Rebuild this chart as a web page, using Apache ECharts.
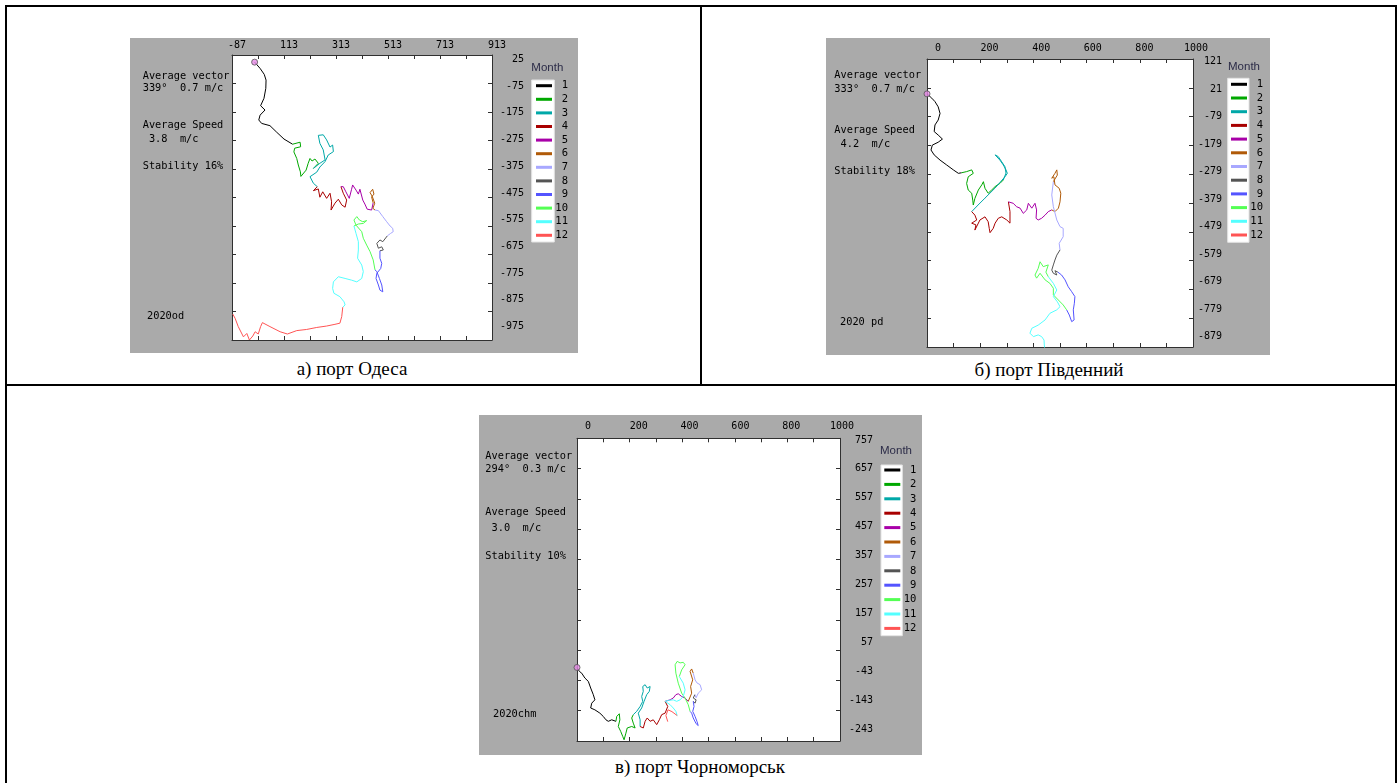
<!DOCTYPE html>
<html><head><meta charset="utf-8">
<script src="https://cdn.jsdelivr.net/npm/echarts@6/dist/echarts.min.js"></script>
<style>
html,body{margin:0;padding:0;background:#fff;}
body{width:1400px;height:783px;position:relative;overflow:hidden;}
.ln{position:absolute;background:#000;}
.cap{position:absolute;font-family:'Liberation Serif','Times New Roman',serif;font-size:19px;line-height:20px;color:#000;text-align:center;white-space:nowrap;}
.ch{position:absolute;background:#aaaaaa;}
</style></head><body>
<div class="ln" style="left:5px;top:5px;width:1392px;height:2px"></div>
<div class="ln" style="left:5px;top:5px;width:2px;height:790px"></div>
<div class="ln" style="left:1395px;top:5px;width:2px;height:790px"></div>
<div class="ln" style="left:700px;top:5px;width:2px;height:380px"></div>
<div class="ln" style="left:5px;top:384px;width:1392px;height:2px"></div>
<div id="chA" class="ch" style="left:130px;top:38px;width:448px;height:315px"></div>
<div id="chB" class="ch" style="left:826px;top:38px;width:444px;height:317px"></div>
<div id="chC" class="ch" style="left:479px;top:415px;width:443px;height:340px"></div>
<div class="cap" style="left:202px;width:300px;top:359px">а) порт Одеса</div>
<div class="cap" style="left:899px;width:300px;top:360px">б) порт Південний</div>
<div class="cap" style="left:550px;width:300px;top:757px">в) порт Чорноморськ</div>
<script>
// ---------------- data ----------------
const months = ['1','2','3','4','5','6','7','8','9','10','11','12'];
const monthColors = ['#000000','#00a800','#00a8a8','#a80000','#a800a8','#b05a08','#a8a8ff','#545454','#5454ff','#54ff54','#54ffff','#ff5454'];

// Odesa
const odesaXLabels = [-87,113,313,513,713,913];
const odesaYLabels = [25,-75,-175,-275,-375,-475,-575,-675,-775,-875,-975];
const odesaInfo = ['Average vector','339°  0.7 m/c','Average Speed',' 3.8  m/c','Stability 16%'];
const odesaTag = '2020od';
const odesa01 = [[0,0],[21,-22],[37,-43],[44,-63],[43,-92],[36,-127],[23,-153],[40,-168],[21,-186],[16,-203],[27,-215],[59,-223],[85,-246],[113,-270],[146,-288]];
const odesa02 = [[146,-288],[175,-281],[177,-297],[154,-302],[151,-315],[162,-338],[168,-361],[176,-385],[178,-401],[198,-379],[206,-355],[213,-338],[221,-347],[232,-340],[245,-355],[226,-373]];
const odesa03 = [[226,-373],[251,-355],[271,-343],[264,-308],[251,-285],[245,-257],[264,-255],[277,-273],[290,-298],[300,-291],[303,-314],[283,-326],[271,-349],[251,-368],[239,-386],[213,-402],[226,-425],[241,-437]];
const odesa04 = [[241,-437],[226,-451],[245,-445],[251,-474],[262,-455],[277,-478],[290,-460],[296,-490],[294,-519],[309,-495],[322,-481],[335,-501],[348,-509],[354,-484],[341,-460],[332,-437]];
const odesa05 = [[332,-437],[341,-437],[351,-455],[364,-478],[373,-446],[377,-431],[390,-449],[399,-463],[405,-446],[416,-484],[424,-498],[433,-516],[450,-519],[456,-494]];
const odesa06 = [[456,-494],[450,-473],[459,-463],[454,-446],[444,-458],[452,-470],[462,-495],[455,-513],[463,-519]];
const odesa07 = [[463,-519],[476,-521],[493,-542],[508,-560],[521,-575],[531,-583],[533,-595],[523,-601],[510,-610]];
const odesa08 = [[510,-610],[508,-607],[493,-630],[482,-624],[470,-636],[476,-653],[489,-648],[495,-659],[482,-662]];
const odesa09 = [[482,-662],[476,-665],[482,-688],[489,-706],[485,-724],[470,-741],[467,-759],[476,-782],[482,-800],[493,-806],[489,-782],[480,-759],[470,-735],[463,-729]];
const odesa10 = [[463,-729],[456,-694],[444,-665],[431,-642],[418,-618],[412,-595],[390,-572],[382,-554],[393,-542],[403,-554],[416,-560],[431,-556],[418,-566],[399,-568],[382,-575]];
const odesa11 = [[382,-575],[390,-601],[399,-630],[399,-659],[396,-688],[412,-712],[418,-735],[412,-759],[393,-771],[373,-765],[348,-759],[322,-753],[303,-771],[300,-794],[305,-811],[328,-823],[344,-841],[348,-852],[339,-860]];
const odesa12 = [[339,-860],[335,-893],[328,-916],[309,-920],[277,-926],[239,-931],[200,-938],[162,-942],[126,-954],[98,-946],[59,-928],[30,-914],[23,-928],[14,-954],[2,-946],[-7,-961],[-20,-975],[-30,-952],[-43,-964],[-63,-928],[-75,-899],[-84,-884]];

// Pivdennyi
const pivdXLabels = [0,200,400,600,800,1000];
const pivdYLabels = [121,21,-79,-179,-279,-379,-479,-579,-679,-779,-879];
const pivdInfo = ['Average vector','333°  0.7 m/c','Average Speed',' 4.2  m/c','Stability 18%'];
const pivdTag = '2020 pd';
const pivd01 = [[0,0],[18,-15],[30,-27],[42,-45],[49,-68],[42,-91],[30,-108],[27,-131],[42,-143],[58,-157],[42,-168],[20,-178],[15,-195],[27,-212],[49,-230],[74,-247],[99,-264],[118,-276],[130,-274]];
const pivd02 = [[130,-274],[149,-270],[168,-264],[174,-276],[155,-288],[149,-311],[155,-334],[168,-345],[172,-369],[174,-386],[180,-363],[193,-334],[206,-316],[212,-305],[218,-328],[230,-345],[243,-334],[256,-322],[274,-311],[287,-299]];
const pivd03 = [[287,-299],[297,-275],[293,-253],[281,-236],[268,-218],[256,-212],[274,-230],[287,-247],[297,-264],[302,-276],[293,-288],[256,-327],[218,-362],[192,-386],[168,-409]];
const pivd04 = [[168,-409],[180,-421],[187,-438],[168,-449],[184,-455],[180,-473],[199,-438],[218,-427],[230,-444],[234,-467],[237,-482],[249,-467],[256,-449],[268,-432],[281,-427],[300,-438],[312,-449],[318,-444],[312,-409],[306,-375]];
const pivd05 = [[306,-375],[324,-380],[337,-392],[350,-397],[362,-415],[375,-403],[381,-380],[387,-375],[394,-397],[406,-380],[412,-403],[410,-432],[418,-438],[431,-432],[444,-421],[456,-409],[469,-403]];
const pivd06 = [[469,-403],[481,-409],[494,-397],[500,-375],[503,-345],[497,-328],[481,-316],[475,-311],[477,-288],[469,-293],[481,-276],[488,-264],[494,-270],[490,-282],[475,-305]];
const pivd07 = [[475,-305],[469,-351],[475,-392],[488,-438],[500,-461],[512,-467],[512,-496],[497,-519],[500,-542]];
const pivd08 = [[500,-542],[488,-560],[481,-577],[475,-594],[469,-612],[475,-623],[488,-629],[481,-614],[492,-619]];
const pivd09 = [[492,-619],[506,-629],[519,-646],[531,-670],[544,-687],[556,-704],[554,-727],[550,-750],[553,-785],[544,-791],[535,-768],[525,-750]];
const pivd10 = [[525,-750],[512,-733],[494,-716],[475,-698],[475,-675],[462,-658],[444,-646],[425,-623],[412,-640],[406,-629],[418,-606],[425,-583],[437,-600],[456,-594],[447,-619],[456,-635]];
const pivd11 = [[456,-635],[475,-658],[488,-681],[475,-704],[490,-722],[500,-739],[488,-750],[462,-762],[444,-785],[418,-803],[394,-814],[387,-831],[400,-843],[418,-837],[431,-843],[440,-855],[441,-872],[444,-896]];
const pivd12 = [];

// Chornomorsk
const chornXLabels = [0,200,400,600,800,1000];
const chornYLabels = [757,657,557,457,357,257,157,57,-43,-143,-243];
const chornInfo = ['Average vector','294°  0.3 m/c','Average Speed',' 3.0  m/c','Stability 10%'];
const chornTag = '2020chm';
const chorn01 = [[0,0],[9,-13],[18,-19],[30,-35],[43,-46],[52,-68],[62,-90],[68,-107],[56,-118],[52,-134],[68,-140],[87,-151],[100,-162],[110,-173],[119,-178],[132,-173],[148,-178]];
const chorn02 = [[148,-178],[151,-162],[161,-153],[163,-173],[157,-195],[166,-211],[174,-228],[179,-239],[186,-217],[191,-200],[208,-195],[221,-200],[214,-184],[208,-167],[214,-156]];
const chorn03 = [[214,-156],[227,-145],[240,-129],[250,-112],[246,-96],[252,-79],[250,-63],[259,-57],[267,-68],[278,-63],[275,-79],[265,-90],[255,-112],[246,-134],[233,-151],[240,-173],[240,-195]];
const chorn04 = [[240,-195],[252,-200],[259,-178],[267,-167],[278,-178],[290,-173],[303,-189],[313,-173],[322,-156],[335,-151],[345,-129],[335,-112]];
const chorn05 = [[335,-112],[354,-107],[366,-101],[376,-90],[385,-87],[398,-96],[411,-101],[423,-112]];
const chorn06 = [[423,-112],[427,-107],[436,-85],[432,-63],[440,-41],[430,-13],[423,-8],[436,-5],[442,-19]];
const chorn07 = [[442,-19],[449,-41],[456,-51],[468,-57],[474,-74],[461,-85],[453,-100],[448,-90]];
const chorn08 = [[448,-90],[442,-101],[453,-107],[449,-118],[442,-112]];
const chorn09 = [[442,-112],[445,-129],[440,-145],[449,-162],[456,-178],[461,-192],[453,-186],[442,-167],[436,-151],[430,-145]];
const chorn10 = [[430,-145],[423,-123],[411,-101],[398,-85],[385,-52],[376,-19],[373,9],[381,20],[392,15],[404,17],[411,9],[398,-8],[389,-30]];
const chorn11 = [[389,-30],[404,-52],[411,-74],[404,-96],[392,-107],[379,-112],[366,-107],[347,-109],[335,-112],[354,-123],[366,-134],[376,-145],[381,-159]];
const chorn12 = [[381,-159],[361,-146],[346,-140],[338,-159],[345,-179]];

// ---------------- build ----------------
const MONO = '"DejaVu Sans Mono", monospace';

function makeOption(p) {
  const xs = p.xLabels, ys = p.yLabels, L = p.layout;
  const xMin = Math.min(...xs), xMax = Math.max(...xs);
  const yMin = Math.min(...ys), yMax = Math.max(...ys);
  const xStep = Math.abs(xs[1] - xs[0]), yStep = Math.abs(ys[1] - ys[0]);
  const frame = '#303030';
  const tickAxis = (pos, min, max, interval) => ({
    type: 'value', gridIndex: 0, position: pos, min: min, max: max, interval: interval,
    axisLine: { show: true, onZero: false, lineStyle: { color: frame, width: 1 } },
    axisTick: { show: true, inside: true, length: 4, lineStyle: { color: frame, width: 1 } },
    axisLabel: { show: false }, splitLine: { show: false }
  });
  const lab = (margin, align) => ({
    show: true, color: '#000', fontFamily: MONO, fontSize: 10, margin: margin, align: align,
    showMinLabel: true, showMaxLabel: true, formatter: v => String(Math.round(v))
  });
  const hidden = gi => ({ type: 'value', gridIndex: gi, show: false, min: 0, max: 1 });
  const noLine = { show: false, onZero: false };

  const series = p.tracks.map((d, i) => ({
    type: 'line', name: months[i], data: d, xAxisIndex: 0, yAxisIndex: 0,
    symbol: 'none', showSymbol: false, color: monthColors[i], clip: true,
    lineStyle: { color: monthColors[i], width: 1 }, itemStyle: { color: monthColors[i] },
    animation: false, z: 3
  }));
  series.push({
    type: 'scatter', name: 'start', data: [p.tracks[0][0]], xAxisIndex: 0, yAxisIndex: 0,
    symbol: 'circle', symbolSize: 6, itemStyle: { color: '#e68ae6', borderColor: '#555', borderWidth: 1 },
    z: 5, animation: false
  });

  const graphic = [];
  graphic.push({ type: 'rect', z: 1, shape: { x: L.box[0], y: L.box[1], width: L.box[2], height: L.box[3] },
    style: { fill: '#ffffff', stroke: '#e4e4e4', lineWidth: 1 } });
  p.info.forEach((t, i) => {
    graphic.push({ type: 'text', x: L.textX, y: L.textY[i], z: 5,
      style: { text: t, font: '10.3px ' + MONO, fill: '#000', align: 'left', verticalAlign: 'middle' } });
  });
  graphic.push({ type: 'text', x: L.tag[0], y: L.tag[1], z: 5,
    style: { text: p.tag, font: '10.3px ' + MONO, fill: '#000', align: 'left', verticalAlign: 'middle' } });
  graphic.push({ type: 'text', x: L.month[0], y: L.month[1], z: 5,
    style: { text: 'Month', font: '11.5px "Liberation Sans", Arial, sans-serif', fill: '#2c2c48', align: 'center', verticalAlign: 'middle' } });

  return {
    animation: false,
    backgroundColor: '#aaaaaa',
    grid: [
      { left: L.plot[0], top: L.plot[1], width: L.plot[2], height: L.plot[3], show: true, backgroundColor: '#ffffff', borderWidth: 0, containLabel: false, outerBoundsMode: 'none' },
      { left: L.xlab[0], top: L.plot[1], width: L.xlab[1], height: L.plot[3], show: false, containLabel: false, outerBoundsMode: 'none' },
      { left: L.plot[0], top: L.ylab[0], width: L.plot[2], height: L.ylab[1], show: false, containLabel: false, outerBoundsMode: 'none' }
    ],
    xAxis: [
      tickAxis('top', xMin, xMax, xStep / 2),
      tickAxis('bottom', xMin, xMax, xStep / 2),
      { type: 'value', gridIndex: 1, position: 'top', min: xMin, max: xMax, interval: xStep,
        axisLine: noLine, axisTick: { show: false }, splitLine: { show: false }, axisLabel: lab(L.xMargin, 'center') },
      hidden(2)
    ],
    yAxis: [
      tickAxis('left', yMin, yMax, yStep),
      tickAxis('right', yMin, yMax, yStep),
      hidden(1),
      { type: 'value', gridIndex: 2, position: 'right', min: yMin, max: yMax, interval: yStep,
        axisLine: noLine, axisTick: { show: false }, splitLine: { show: false }, axisLabel: lab(L.yMargin, 'right') }
    ],
    legend: {
      data: months, orient: 'vertical', left: L.legend[0], top: L.legend[1], padding: 0,
      itemWidth: 16, itemHeight: 3, itemGap: L.legend[2], icon: 'rect', selectedMode: false,
      itemStyle: { borderWidth: 0 },
      formatter: n => '{n|' + n + '}',
      textStyle: { color: '#000', fontFamily: MONO, fontSize: 10.5, lineHeight: 12,
        rich: { n: { width: 11, align: 'right', color: '#000', fontFamily: MONO, fontSize: 10.5, lineHeight: 12 } } }
    },
    graphic: graphic,
    series: series
  };
}

const panels = [
  { el: 'chA', xLabels: odesaXLabels, yLabels: odesaYLabels, info: odesaInfo, tag: odesaTag,
    tracks: [odesa01, odesa02, odesa03, odesa04, odesa05, odesa06, odesa07, odesa08, odesa09, odesa10, odesa11, odesa12],
    layout: { plot: [102, 17, 260, 285], xlab: [107, 260], ylab: [21.5, 267], xMargin: 5, yMargin: 32,
      box: [401.7, 42, 22.6, 162], legend: [406, 41.7, 1.6], month: [417.3, 30.3],
      textX: 12.7, textY: [38, 50.3, 87.7, 101, 128], tag: [17, 278] } },
  { el: 'chB', xLabels: pivdXLabels, yLabels: pivdYLabels, info: pivdInfo, tag: pivdTag,
    tracks: [pivd01, pivd02, pivd03, pivd04, pivd05, pivd06, pivd07, pivd08, pivd09, pivd10, pivd11, pivd12],
    layout: { plot: [101, 21, 266, 288], xlab: [112, 258], ylab: [23.7, 275], xMargin: 6, yMargin: 29,
      box: [401.7, 40.3, 21.3, 164], legend: [405, 40.3, 1.7], month: [418, 28.7],
      textX: 8.3, textY: [37.7, 51, 92.7, 106.3, 133.7], tag: [14, 284] } },
  { el: 'chC', xLabels: chornXLabels, yLabels: chornYLabels, info: chornInfo, tag: chornTag,
    tracks: [chorn01, chorn02, chorn03, chorn04, chorn05, chorn06, chorn07, chorn08, chorn09, chorn10, chorn11, chorn12],
    layout: { plot: [98, 23.3, 263, 302.7], xlab: [109, 254], ylab: [25, 289], xMargin: 7, yMargin: 33,
      box: [402, 50, 21.3, 170.7], legend: [405.3, 49, 2.4], month: [417, 36],
      textX: 6.3, textY: [41.7, 54.3, 97.7, 113.3, 141.7], tag: [14, 299] } }
];

panels.forEach(p => {
  const chart = echarts.init(document.getElementById(p.el), null, { renderer: 'canvas' });
  chart.setOption(makeOption(p));
});
</script>
</body></html>
